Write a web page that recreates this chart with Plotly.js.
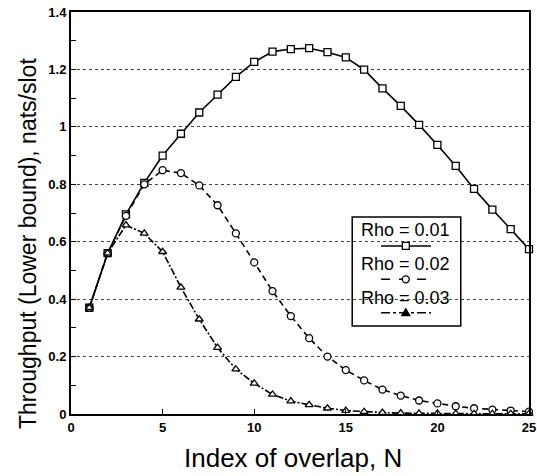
<!DOCTYPE html>
<html>
<head>
<meta charset="utf-8">
<script src="https://cdn.plot.ly/plotly-3.0.1.min.js"></script>
<style>html,body{margin:0;padding:0;background:#fff;}#chart{width:537px;height:476px;}</style>
</head>
<body>
<div id="chart"></div>
<script>
const N = [1,2,3,4,5,6,7,8,9,10,11,12,13,14,15,16,17,18,19,20,21,22,23,24,25];
const rho001 = [0.37,0.56,0.695,0.805,0.90,0.976,1.05,1.112,1.174,1.226,1.262,1.271,1.274,1.26,1.242,1.199,1.134,1.073,1.007,0.937,0.864,0.784,0.712,0.644,0.574];
const rho002 = [0.37,0.56,0.69,0.80,0.849,0.839,0.796,0.727,0.629,0.528,0.428,0.341,0.264,0.200,0.153,0.117,0.085,0.064,0.047,0.037,0.027,0.020,0.015,0.012,0.008];
const rho003 = [0.37,0.56,0.658,0.629,0.565,0.441,0.330,0.231,0.156,0.107,0.068,0.045,0.032,0.020,0.012,0.008,0.005,0.003,0.002,0.002,0.001,0.001,0.001,0.001,0.001];
const seriesNames = ['Rho = 0.01','Rho = 0.02','Rho = 0.03'];
const yTicks = [0,0.2,0.4,0.6,0.8,1,1.2,1.4];
const xTicks = [0,5,10,15,20,25];
const xTitle = 'Index of overlap, N';
const yTitle = 'Throughput (Lower bound), nats/slot';

const font = 'Liberation Sans, Arial, sans-serif';
function tr(y, sym, dash, name){
  return {x:N, y:y, name:name, type:'scatter', mode:'lines+markers', cliponaxis:false,
    line:{color:'#000', width:1.6, dash:dash},
    marker:{symbol:sym, size:7, color:'#fff', line:{color:'#000', width:1.3}}, showlegend:false};
}
const traces = [
  tr(rho001,'square','solid',seriesNames[0]),
  tr(rho002,'circle','6px,4px',seriesNames[1]),
  tr(rho003,'triangle-up','7px,2px,2px,2px',seriesNames[2])
];

// custom legend (text above sample line)
const legX0 = 0.614, legX1 = 0.851, legY0 = 0.219, legY1 = 0.49;
const cx = 0.731, lx0 = 0.677, lx1 = 0.786;
const textY = [0.457,0.374,0.289];
const lineY = [0.418,0.335,0.252];
const dashes = ['solid','dash','dashdot'];
const shapes = [{type:'rect', xref:'paper', yref:'paper', x0:legX0, x1:legX1, y0:legY0, y1:legY1, line:{color:'#000', width:1.5}}];
const annotations = [];
for (let i=0;i<3;i++){
  annotations.push({xref:'paper', yref:'paper', x:cx, y:textY[i], text:seriesNames[i], showarrow:false,
    font:{family:font, size:18, color:'#000'}, xanchor:'center', yanchor:'middle'});
  shapes.push({type:'line', xref:'paper', yref:'paper', x0:lx0, x1:lx1, y0:lineY[i], y1:lineY[i], line:{color:'#000', width:1.5, dash:dashes[i]}});
}
const mk = {xref:'paper', yref:'paper', xsizemode:'pixel', ysizemode:'pixel', xanchor:cx, line:{color:'#000', width:1.3}, fillcolor:'#fff'};
shapes.push(Object.assign({}, mk, {type:'rect', yanchor:lineY[0], x0:-3.5, x1:3.5, y0:-3.5, y1:3.5}));
shapes.push(Object.assign({}, mk, {type:'circle', yanchor:lineY[1], x0:-3.5, x1:3.5, y0:-3.5, y1:3.5}));
shapes.push(Object.assign({}, mk, {type:'path', yanchor:lineY[2], path:'M -4 -3 L 4 -3 L 0 4 Z', fillcolor:'#000'}));

// axis titles as annotations for exact placement
annotations.push({xref:'paper', yref:'paper', x:0.4847, y:-0.11, text:xTitle, showarrow:false,
  font:{family:font, size:26, color:'#000'}, xanchor:'center', yanchor:'middle'});
annotations.push({xref:'paper', yref:'paper', x:-0.0942, y:0.425, text:yTitle, showarrow:false, textangle:-90,
  font:{family:font, size:23, color:'#000'}, xanchor:'center', yanchor:'middle'});

const layout = {
  width:537, height:476,
  margin:{l:71, r:8, t:12, b:62},
  paper_bgcolor:'#fff', plot_bgcolor:'#fff',
  font:{family:font, color:'#000'},
  showlegend:false,
  xaxis:{range:[0,25], tickvals:xTicks, ticks:'inside', ticklen:5, tickwidth:1, tickcolor:'#000',
    showline:true, linecolor:'#000', linewidth:2, mirror:true, showgrid:false, zeroline:false,
    tickfont:{family:font, size:13, weight:'bold'}},
  yaxis:{range:[0,1.4], tickvals:yTicks, ticks:'inside', ticklen:5, tickwidth:1, tickcolor:'#000',
    showline:true, linecolor:'#000', linewidth:2, mirror:true, zeroline:false,
    showgrid:true, gridcolor:'#444', griddash:'dot', gridwidth:1,
    minor:{dtick:0.1, ticks:'inside', ticklen:5, tickcolor:'#000', showgrid:false},
    tickfont:{family:font, size:13, weight:'bold'}},
  shapes:shapes, annotations:annotations
};
Plotly.newPlot('chart', traces, layout, {staticPlot:true, displayModeBar:false});
</script>
</body>
</html>
